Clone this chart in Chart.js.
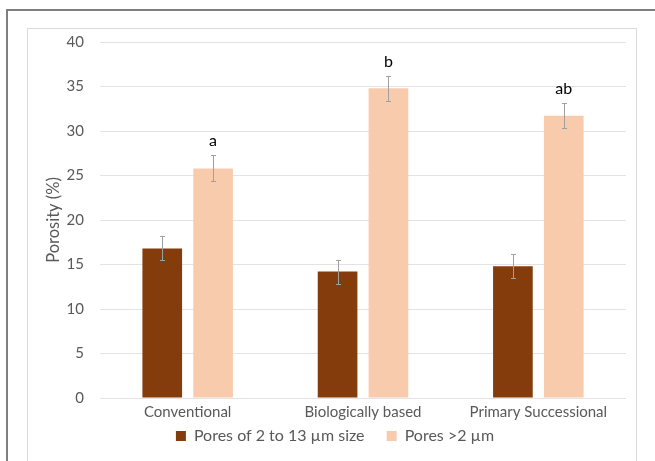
<!DOCTYPE html>
<html>
<head>
<meta charset="utf-8">
<script src="https://cdn.jsdelivr.net/npm/chart.js@4.4.1/dist/chart.umd.min.js"></script>
<style>
  html, body { margin: 0; padding: 0; background: #fff; overflow: hidden; }
  #outer { position: absolute; left: 6px; top: 9px; width: 700px; height: 500px; border: 2px solid #7f7f7f; }
  #inner { position: absolute; left: 27px; top: 28px; width: 608px; height: 500px; border: 1px solid #d9d9d9; }
  #wrap { position: absolute; left: 0; top: 0; width: 655px; height: 461px; }
</style>
</head>
<body>
<div id="outer"></div>
<div id="inner"></div>
<div id="wrap"><canvas id="chart" width="655" height="461"></canvas></div>
<script>
const categories = ['Conventional', 'Biologically based', 'Primary Successional'];
const seriesNames = ['Pores of 2 to 13 \u00b5m size', 'Pores >2 \u00b5m'];
const smallPores = [16.8, 14.2, 14.8];
const smallPoresErr = [1.35, 1.35, 1.35];
const largePores = [25.8, 34.8, 31.7];
const largePoresErr = [1.45, 1.4, 1.4];
const largeLetters = ['a', 'b', 'ab'];
const yTicks = [0, 5, 10, 15, 20, 25, 30, 35, 40];

const textColor = '#595959';
const fontFamily = 'Lato, "Open Sans", sans-serif';

// error bars and significance letters on top of the bars
const errorBarPlugin = {
    id: 'errorBars',
    afterDatasetsDraw(chart) {
        const ctx = chart.ctx;
        const yScale = chart.scales.y;
        chart.data.datasets.forEach((ds, di) => {
            const meta = chart.getDatasetMeta(di);
            meta.data.forEach((bar, i) => {
                const v = ds.data[i];
                const e = ds.errors[i];
                const yTop = Math.round(yScale.getPixelForValue(v + e)) + 0.5;
                const yBot = Math.round(yScale.getPixelForValue(v - e)) + 0.5;
                const x = Math.round(bar.x) + 0.5;
                ctx.save();
                ctx.strokeStyle = '#a0a0a0';
                ctx.lineWidth = 1;
                ctx.beginPath();
                ctx.moveTo(x, yTop);
                ctx.lineTo(x, yBot);
                ctx.moveTo(x - 2.5, yTop);
                ctx.lineTo(x + 2.5, yTop);
                ctx.moveTo(x - 2.5, yBot);
                ctx.lineTo(x + 2.5, yBot);
                ctx.stroke();
                if (ds.letters) {
                    ctx.fillStyle = '#000';
                    ctx.font = '16px ' + fontFamily;
                    ctx.textAlign = 'center';
                    ctx.textBaseline = 'alphabetic';
                    ctx.fillText(ds.letters[i], bar.x, yTop - 10);
                }
                ctx.restore();
            });
        });
    }
};

new Chart(document.getElementById('chart'), {
    type: 'bar',
    data: {
        labels: categories,
        datasets: [
            {
                label: seriesNames[0],
                data: smallPores,
                errors: smallPoresErr,
                backgroundColor: '#843c0c',
                categoryPercentage: 0.58,
                barPercentage: 0.78,
            },
            {
                label: seriesNames[1],
                data: largePores,
                errors: largePoresErr,
                letters: largeLetters,
                backgroundColor: '#f8cbad',
                categoryPercentage: 0.58,
                barPercentage: 0.78,
            },
        ],
    },
    options: {
        responsive: false,
        animation: false,
        layout: {
            padding: { left: 44, right: 29, top: 42, bottom: 7 },
        },
        plugins: {
            legend: {
                position: 'bottom',
                labels: {
                    boxWidth: 10,
                    boxHeight: 10,
                    color: textColor,
                    font: { family: fontFamily, size: 16 },
                    padding: 6,
                    // widen the gap between the two entries without a tall legend box
                    generateLabels: (chart) => {
                        const items = Chart.defaults.plugins.legend.labels.generateLabels(chart);
                        items[0].text += '\u2003 ';
                        return items;
                    },
                },
            },
            tooltip: { enabled: false },
        },
        scales: {
            x: {
                grid: { display: false, drawTicks: false },
                border: { display: false },
                ticks: {
                    color: textColor,
                    font: { family: fontFamily, size: 15 },
                    padding: 5,
                },
                afterFit: (scale) => { scale.height = 24; },
            },
            y: {
                min: 0,
                max: 40,
                afterBuildTicks: (scale) => {
                    scale.ticks = yTicks.map((v) => ({ value: v }));
                },
                grid: { color: '#e3e3e3', drawTicks: false },
                border: { display: false },
                ticks: {
                    color: textColor,
                    font: { family: fontFamily, size: 15 },
                    padding: 16,
                },
                title: {
                    display: true,
                    text: 'Porosity (%)',
                    color: textColor,
                    font: { family: fontFamily, size: 16.5 },
                    padding: { top: 0, bottom: 0 },
                },
                afterFit: (scale) => { scale.width = 56; },
            },
        },
    },
    plugins: [errorBarPlugin],
});
</script>
</body>
</html>
